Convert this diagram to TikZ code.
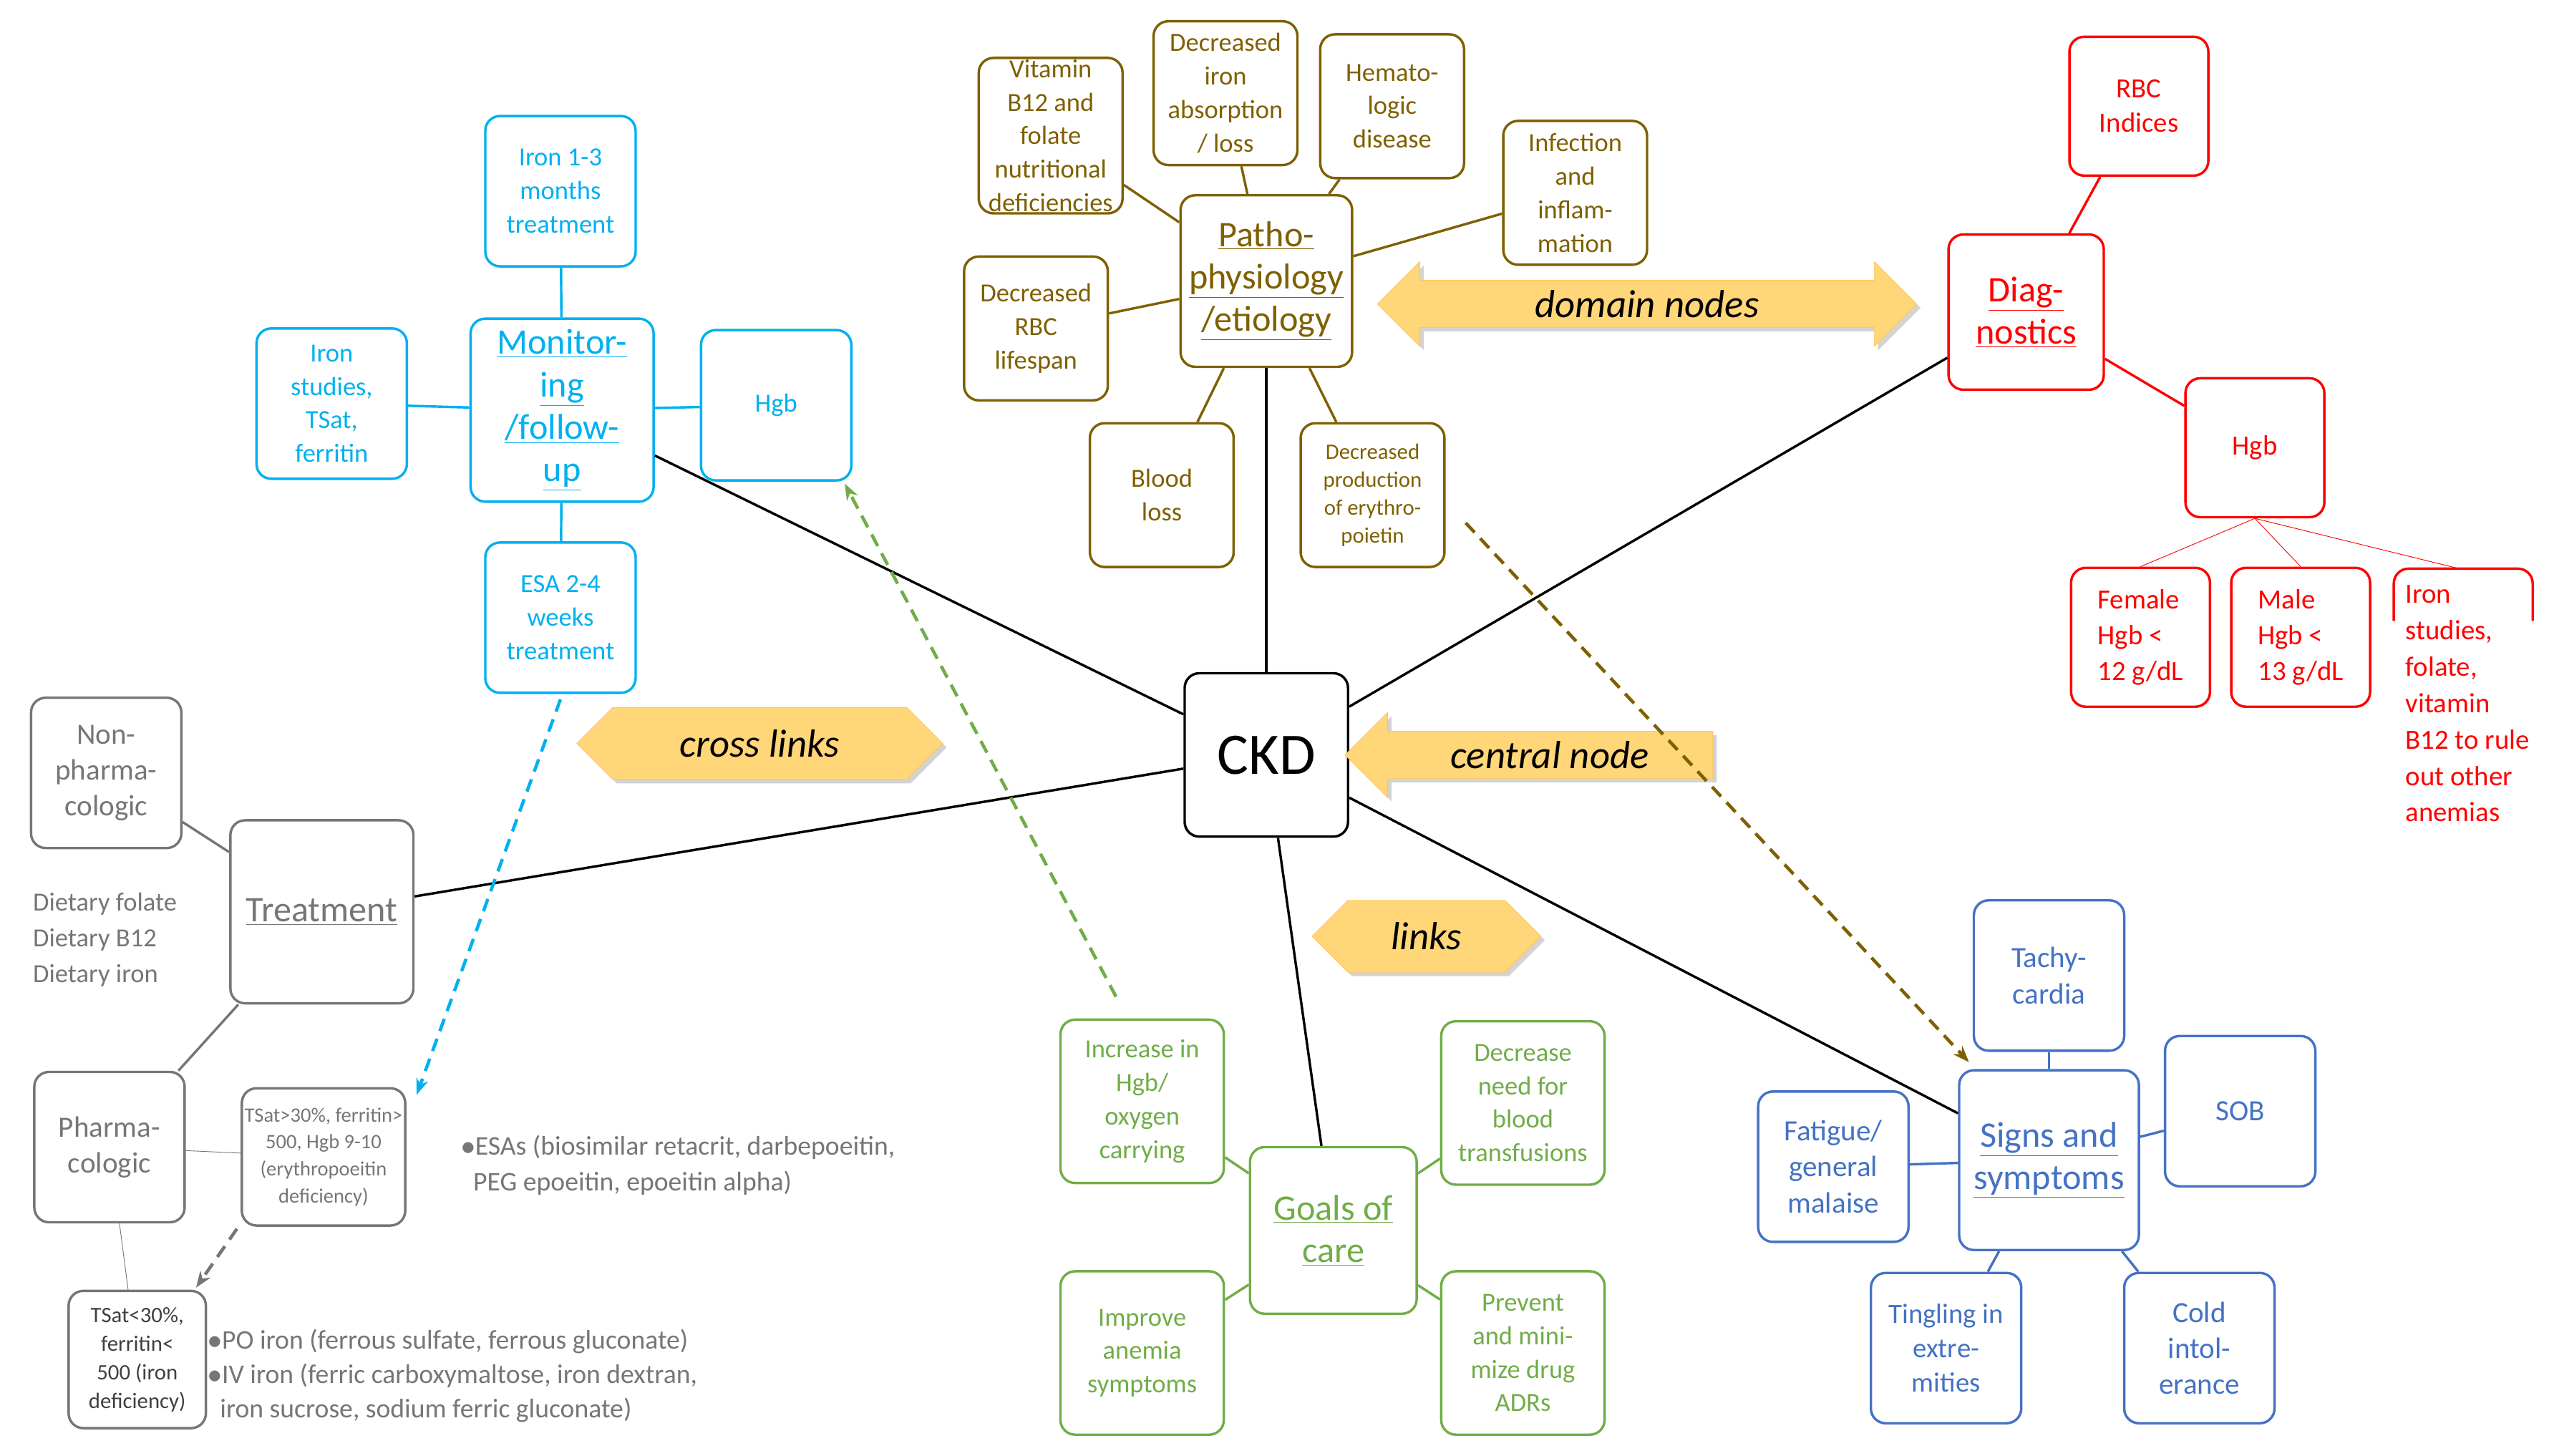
\documentclass[tikz,border=0pt]{standalone}
\usepackage{fontspec}
\setmainfont{Carlito}
\usetikzlibrary{positioning,shapes.arrows,shapes.symbols,shadows,arrows.meta}
\definecolor{olv}{RGB}{127,96,0}
\definecolor{cyn}{RGB}{0,176,240}
\definecolor{grn}{RGB}{112,173,71}
\definecolor{blu}{RGB}{68,114,196}
\definecolor{gry}{RGB}{118,118,118}
\definecolor{gold}{RGB}{255,214,120}
\newcommand{\ul}[1]{\underline{#1}}
\begin{document}
\begin{tikzpicture}[
    x=1pt, y=-1pt,
    every node/.style={font=\fontsize{16}{20.5}\selectfont},
    box/.style={draw,rounded corners=9,align=center,minimum width=#1,minimum height=#1,inner sep=1pt,line width=1.5pt},
    hub/.style={box=#1,font=\fontsize{22}{26}\selectfont},
    fat/.style={fill=gold,draw=gold!80!orange,drop shadow={opacity=0.35},font=\fontsize{24}{28}\selectfont\itshape},
    link/.style={line width=1.5pt},
    dlink/.style={line width=2pt,dash pattern=on 8pt off 5pt,-{Stealth[length=10pt]}}
  ]
    \useasboundingbox (0,0) rectangle (1560,891);
    % Central node
    \node[box=100,font=\fontsize{36}{40}\selectfont] (ckd) at (775,462) {CKD};

    % Pathophysiology
    \node[hub=105,draw=olv,text=olv] (pat) at (775,172) {\ul{Patho-}\\\ul{physiology}\\\ul{/etiology}};
    \node[box=88,draw=olv,text=olv] (vit) at (643,83) {Vitamin\\B12 and\\folate\\nutritional\\deficiencies};
    \node[box=88,draw=olv,text=olv] (abs) at (750,57) {Decreased\\iron\\absorption\\/ loss};
    \node[box=88,draw=olv,text=olv] (hem) at (852,65) {Hemato-\\logic\\disease};
    \node[box=88,draw=olv,text=olv] (inf) at (964,118) {Infection\\and\\inflam-\\mation};
    \node[box=88,draw=olv,text=olv] (rbc) at (634,201) {Decreased\\RBC\\lifespan};
    \node[box=88,draw=olv,text=olv] (bld) at (711,303) {Blood\\loss};
    \node[box=88,draw=olv,text=olv,font=\fontsize{13.5}{17}\selectfont] (epo) at (840,303) {Decreased\\production\\of erythro-\\poietin};
    \foreach \n in {vit,abs,hem,inf,rbc,bld,epo} \draw[olv,link] (pat) -- (\n);

    % Diagnostics
    \node[hub=95,draw=red,text=red] (dia) at (1240,191) {\ul{Diag-}\\\ul{nostics}};
    \node[box=85,draw=red,text=red,font=\fontsize{17}{21}\selectfont] (ind) at (1309,65) {RBC\\Indices};
    \node[box=85,draw=red,text=red,font=\fontsize{17}{21}\selectfont] (hgr) at (1380,274) {Hgb};
    \node[box=85,draw=red,text=red,align=left,font=\fontsize{17}{22}\selectfont] (fem) at (1310,390) {Female\\Hgb <\\12 g/dL};
    \node[box=85,draw=red,text=red,align=left,font=\fontsize{17}{22}\selectfont] (mal) at (1408,390) {Male\\Hgb <\\13 g/dL};
    \node[text=red,align=left,anchor=north west,inner sep=0pt,font=\fontsize{17}{22.3}\selectfont] (irs) at (1472,358) {Iron\\studies,\\folate,\\vitamin\\B12 to rule\\out other\\anemias};
    \draw[red,line width=1.5pt,rounded corners=9] (1465,380) -- (1465,348) -- (1550,348) -- (1550,380);
    \coordinate (irt) at (1505,348);
    \draw[red,link] (dia) -- (ind);
    \draw[red,link] (dia) -- (hgr);
    \foreach \n in {fem.north,mal.north,irt} \draw[red,thin] (hgr.south) -- (\n);

    % Monitoring
    \node[hub=112,draw=cyn,text=cyn] (mon) at (344,251) {\ul{Monitor-}\\\ul{ing}\\\ul{/follow-}\\\ul{up}};
    \node[box=92,draw=cyn,text=cyn] (ir3) at (343,117) {Iron 1-3\\months\\treatment};
    \node[box=92,draw=cyn,text=cyn] (ist) at (203,247) {Iron\\studies,\\TSat,\\ferritin};
    \node[box=92,draw=cyn,text=cyn] (hgc) at (475,248) {Hgb};
    \node[box=92,draw=cyn,text=cyn] (esa) at (343,378) {ESA 2-4\\weeks\\treatment};
    \foreach \n in {ir3,ist,hgc,esa} \draw[cyn,link] (mon) -- (\n);

    % Treatment
    \node[hub=112,draw=gry,text=gry] (trt) at (197,558) {\ul{Treatment}};
    \node[box=92,draw=gry,text=gry,font=\fontsize{18}{22}\selectfont] (non) at (65,473) {Non-\\pharma-\\cologic};
    \node[box=92,draw=gry,text=gry,font=\fontsize{18}{22}\selectfont] (pha) at (67,702) {Pharma-\\cologic};
    \node[box=100,minimum height=84,draw=gry,text=gry,font=\fontsize{12.5}{16.5}\selectfont] (ts1) at (198,708) {TSat>30\%, ferritin>\\500, Hgb 9-10\\(erythropoeitin\\deficiency)};
    \node[box=84,draw=gry,text=black!75,font=\fontsize{13.5}{17.5}\selectfont] (ts2) at (84,832) {TSat<30\%,\\ferritin<\\500 (iron\\deficiency)};
    \node[text=gry,align=left,anchor=west,inner sep=0pt,font=\fontsize{16}{22}\selectfont] (die) at (20,575) {Dietary folate\\Dietary B12\\Dietary iron};
    \node[text=gry,align=left,anchor=west,inner sep=0pt,font=\fontsize{16.5}{22}\selectfont] (esl) at (282,713) {$\bullet$ESAs (biosimilar retacrit, darbepoeitin,\\\ \ PEG epoeitin, epoeitin alpha)};
    \node[text=gry,align=left,anchor=west,inner sep=0pt,font=\fontsize{16.5}{21}\selectfont] (pol) at (127,842) {$\bullet$PO iron (ferrous sulfate, ferrous gluconate)\\$\bullet$IV iron (ferric carboxymaltose, iron dextran,\\\ \ iron sucrose, sodium ferric gluconate)};
    \draw[gry,link] (trt) -- (non);
    \draw[gry,link] (trt) -- (pha);
    \draw[gry,thin] (pha) -- (ts1);
    \draw[gry,thin] (pha) -- (ts2);

    % Goals of care
    \node[hub=102,draw=grn,text=grn] (goa) at (816,753) {\ul{Goals of}\\\ul{care}};
    \node[box=100,draw=grn,text=grn] (inc) at (699,674) {Increase in\\Hgb/\\oxygen\\carrying};
    \node[box=100,draw=grn,text=grn] (dec) at (932,675) {Decrease\\need for\\blood\\transfusions};
    \node[box=100,draw=grn,text=grn] (imp) at (699,828) {Improve\\anemia\\symptoms};
    \node[box=100,draw=grn,text=grn] (pre) at (932,828) {Prevent\\and mini-\\mize drug\\ADRs};
    \foreach \n in {inc,dec,imp,pre} \draw[grn,link] (goa) -- (\n);

    % Signs and symptoms
    \node[hub=110,draw=blu,text=blu] (sig) at (1254,710) {\ul{Signs and}\\\ul{symptoms}};
    \node[box=92,draw=blu,text=blu,font=\fontsize{18}{22}\selectfont] (tac) at (1254,597) {Tachy-\\cardia};
    \node[box=92,draw=blu,text=blu,font=\fontsize{18}{22}\selectfont] (sob) at (1371,680) {SOB};
    \node[box=92,draw=blu,text=blu,font=\fontsize{18}{22}\selectfont] (fat) at (1122,714) {Fatigue/\\general\\malaise};
    \node[box=92,draw=blu,text=blu,font=\fontsize{17}{21}\selectfont] (tin) at (1191,825) {Tingling in\\extre-\\mities};
    \node[box=92,draw=blu,text=blu,font=\fontsize{18}{22}\selectfont] (col) at (1346,825) {Cold\\intol-\\erance};
    \foreach \n in {tac,sob,fat,tin,col} \draw[blu,link] (sig) -- (\n);

    % Central connections
    \foreach \n in {pat,dia,mon,trt,goa,sig} \draw[link] (ckd) -- (\n);

    % Legend arrows
    \node[fat,double arrow,double arrow head extend=10pt,minimum height=330,minimum width=52,inner sep=4pt] (dom) at (1008,186) {domain nodes};
    \node[fat,single arrow,shape border rotate=180,single arrow head extend=10pt,minimum height=225,minimum width=52,inner sep=4pt] (cen) at (943,462) {\ \ central node};
    \node[fat,signal,signal to=west and east,minimum width=224,minimum height=44] (crs) at (465,455) {cross links};
    \node[fat,signal,signal to=west and east,minimum width=140,minimum height=44] (lnk) at (873,573) {links};

    % Cross links
    \coordinate (c1) at (343,428);
    \coordinate (c2) at (255,670);
    \coordinate (g1) at (683,610);
    \coordinate (g2) at (517,296);
    \coordinate (o1) at (897,320);
    \coordinate (o2) at (1205,650);
    \coordinate (k1) at (145,752);
    \coordinate (k2) at (120,788);
    \draw[dlink,cyn] (c1) -- (c2);
    \draw[dlink,grn] (g1) -- (g2);
    \draw[dlink,olv] (o1) -- (o2);
    \draw[dlink,gry] (k1) -- (k2);
\end{tikzpicture}
\end{document}
